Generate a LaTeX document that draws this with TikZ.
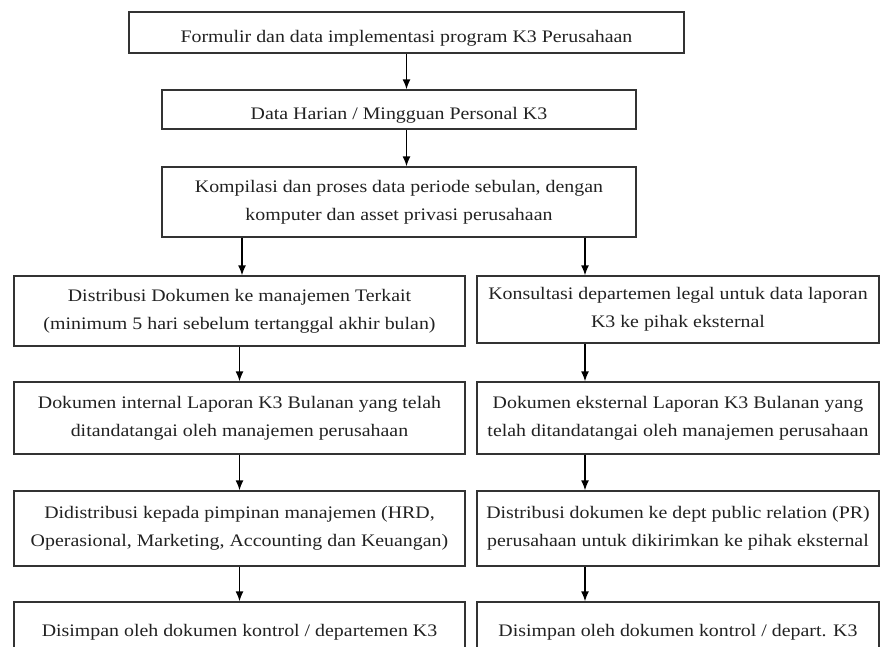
\documentclass[tikz,border=0pt]{standalone}
\usepackage{fontspec}
\setmainfont[FakeStretch=1.13]{Liberation Serif}
\usepackage{tikz}
\usetikzlibrary{arrows.meta}
\definecolor{FontColor}{HTML}{222222}
\definecolor{LineColor}{HTML}{333333}
\newcommand\nodeform{Formulir dan data implementasi program K3 Perusahaan}
\newcommand\nodeharian{Data Harian / Mingguan Personal K3}
\newcommand\nodekom{Kompilasi dan proses data periode sebulan, dengan\\komputer dan asset privasi perusahaan}
\newcommand\nodedist{Distribusi Dokumen ke manajemen Terkait\\(minimum 5 hari sebelum tertanggal akhir bulan)}
\newcommand\nodekon{Konsultasi departemen legal untuk data laporan\\K3 ke pihak eksternal}
\newcommand\nodeint{Dokumen internal Laporan K3 Bulanan yang telah\\ditandatangai oleh manajemen perusahaan}
\newcommand\nodeext{Dokumen eksternal Laporan K3 Bulanan yang\\telah ditandatangai oleh manajemen perusahaan}
\newcommand\nodepim{Didistribusi kepada pimpinan manajemen (HRD,\\Operasional, Marketing, Accounting dan Keuangan)}
\newcommand\nodepr{Distribusi dokumen ke dept public relation (PR)\\perusahaan untuk dikirimkan ke pihak eksternal}
\newcommand\nodesimpl{Disimpan oleh dokumen kontrol / departemen K3}
\newcommand\nodesimpr{Disimpan oleh dokumen kontrol / depart. K3}
\tikzstyle{mynodestyle} = [rectangle, inner sep=0pt, text=FontColor, align=center, font=\fontsize{17.6}{28}\selectfont, execute at begin node={\rule{0pt}{24pt}}]
\tikzstyle{bx} = [mynodestyle, draw=LineColor, fill=white]
\tikzstyle{lbx} = [bx, minimum width=451pt]
\tikzstyle{rbx} = [bx, minimum width=402pt]
\tikzset{>={Latex[length=10pt,width=8pt]}, every picture/.style={line width=1.4pt}}

\begin{document}
\begin{tikzpicture}[x=1pt, y=-1pt]
\useasboundingbox (0,0) rectangle (880,646);
\clip (0,0) rectangle (880,646);
\node[bx, minimum width=555pt, minimum height=41pt] (form) at (406.5, 32.5) {\nodeform};
\node[bx, minimum width=474pt, minimum height=39pt] (harian) at (399, 109.5) {\nodeharian};
\node[bx, minimum width=474pt, minimum height=70pt] (kom) at (399, 202) {\nodekom};
\node[lbx, minimum height=70pt] (dist) at (239.5, 311) {\nodedist};
\node[rbx, minimum height=67pt] (kon) at (678, 309.5) {\nodekon};
\node[lbx, minimum height=72pt] (int) at (239.5, 418) {\nodeint};
\node[rbx, minimum height=72pt] (ext) at (678, 418) {\nodeext};
\node[lbx, minimum height=75pt] (pim) at (239.5, 528.5) {\nodepim};
\node[rbx, minimum height=75pt] (pr) at (678, 528.5) {\nodepr};
\node[lbx, minimum height=48pt, execute at begin node={}] (simpl) at (239.5, 626) {\nodesimpl};
\node[rbx, minimum height=48pt, execute at begin node={}] (simpr) at (678, 626) {\nodesimpr};
\coordinate (lx) at (242, 0);
\coordinate (rx) at (585, 0);
\draw [->] (form.south) -- (harian.north -| form.south);
\draw [->] (harian.south -| form.south) -- (kom.north -| form.south);
\draw [->] (kom.south -| lx) -- (dist.north -| lx);
\draw [->] (kom.south -| rx) -- (kon.north -| rx);
\draw [->] (dist) -- (int);
\draw [->] (int) -- (pim);
\draw [->] (pim) -- (simpl);
\draw [->] (kon.south -| rx) -- (ext.north -| rx);
\draw [->] (ext.south -| rx) -- (pr.north -| rx);
\draw [->] (pr.south -| rx) -- (simpr.north -| rx);
\end{tikzpicture}
\end{document}
